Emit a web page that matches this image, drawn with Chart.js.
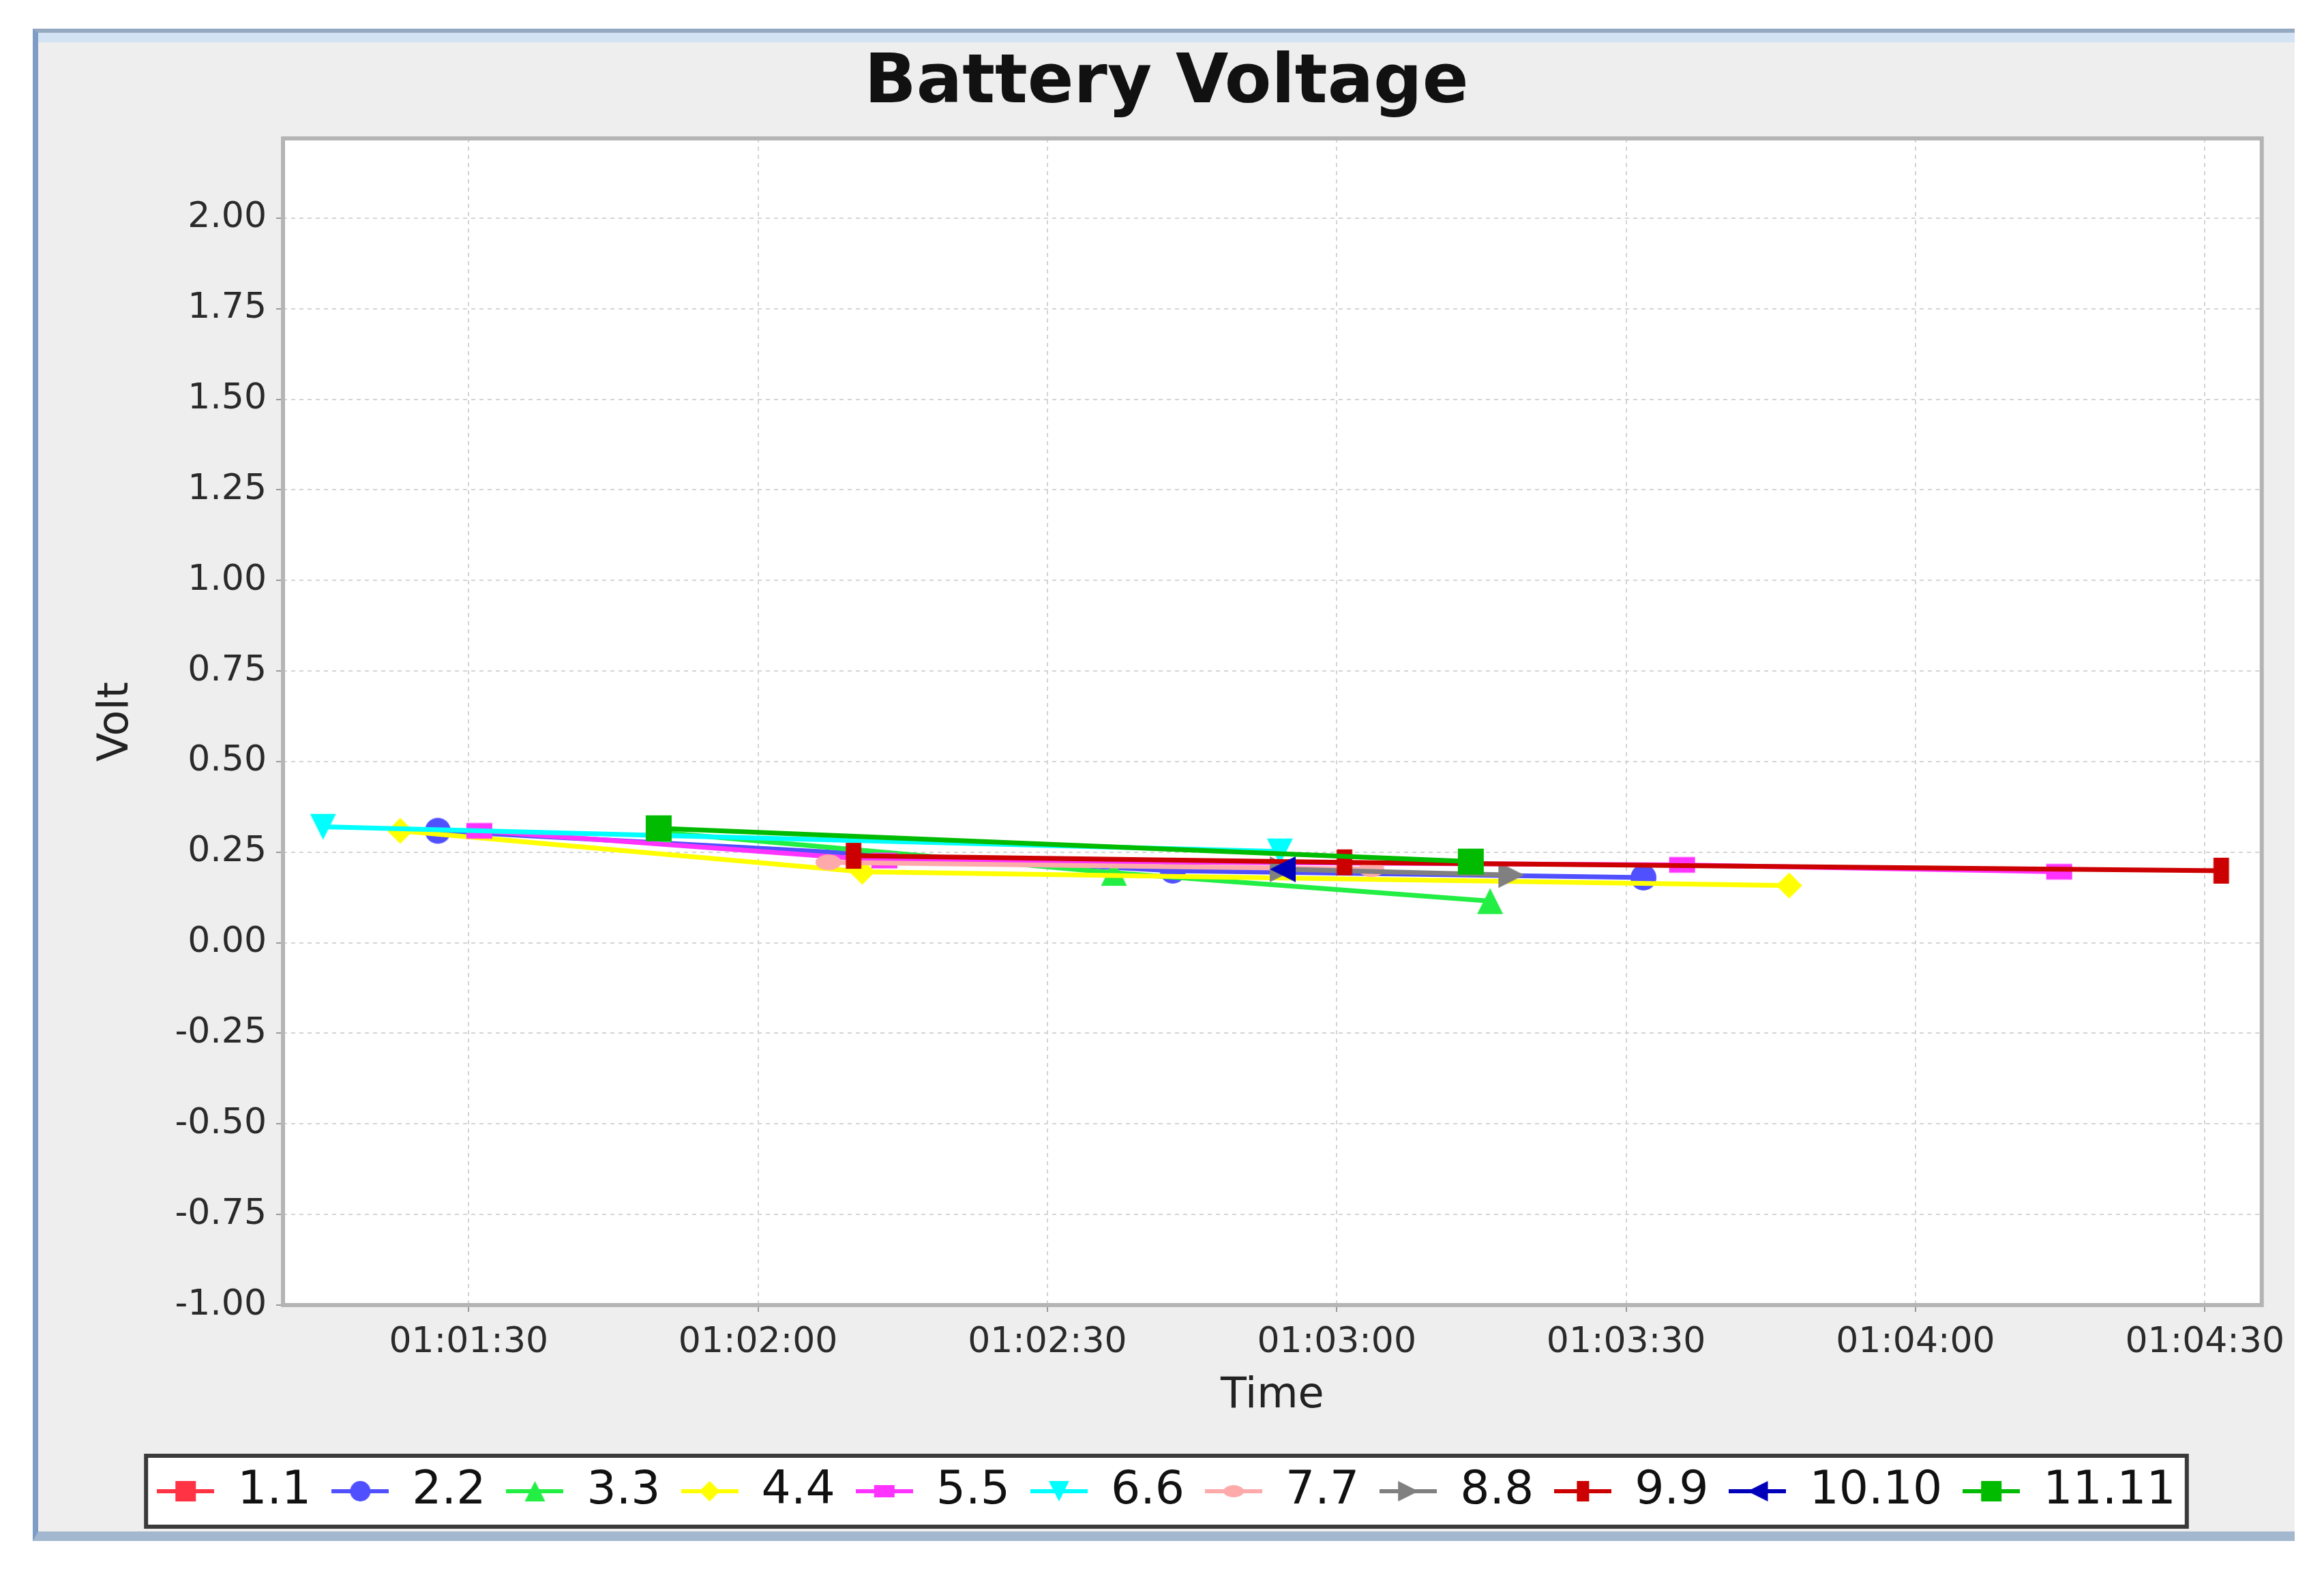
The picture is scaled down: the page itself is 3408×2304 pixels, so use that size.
<!DOCTYPE html>
<html lang="en">
<head>
  <meta charset="UTF-8">
  <title>Battery Voltage</title>
  <script src="https://cdn.jsdelivr.net/npm/chart.js"></script>
  <style>
    html, body { margin: 0; padding: 0; background: #ffffff; }
    body { width: 3408px; height: 2304px; position: relative; overflow: hidden; }
    .frame {
      position: absolute; left: 48px; top: 42px;
      width: 3309px; height: 2198px;
      border-left: 8px solid #7f9cc6;
      border-top: 6px solid #94a8c0;
      border-bottom: 14px solid #a3b8cf;
      background: #eeeeee;
      box-shadow: inset 0 14px 0 #d3e3f3;
    }
    canvas { display: block; }
  </style>
</head>
<body>
  <div class="frame">
    <canvas id="voltChart" width="3309" height="2198"></canvas>
  </div>

  <script>
    // series (legend order)
    const seriesNames = ['1.1', '2.2', '3.3', '4.4', '5.5', '6.6', '7.7', '8.8', '9.9', '10.10', '11.11'];
    const seriesColors = ['#ff3344', '#5050ff', '#22ee44', '#ffff00', '#ff33ff', '#00ffff',
                          '#ffaaaa', '#808080', '#cc0000', '#0000bb', '#00bb00'];
    const seriesShapes = ['square', 'circle', 'triUp', 'diamond', 'hRect', 'triDown',
                          'hEllipse', 'triRight', 'vRect', 'triLeft', 'square'];

    // seconds after 01:00:00
    const times = [
      [],                            // 1.1
      [86.8, 163.0, 211.8],          // 2.2
      [109.8, 156.9, 195.9],         // 3.3
      [82.9, 130.8, 226.9],          // 4.4
      [91.1, 133.1, 215.8, 254.9],   // 5.5
      [74.9, 174.1],                 // 6.6
      [127.3, 183.6],                // 7.7
      [174.4, 198.1],                // 8.8
      [129.9, 180.8, 271.7],         // 9.9
      [174.4],                       // 10.10
      [109.7, 193.9]                 // 11.11
    ];
    // volt
    const volts = [
      [],
      [0.309, 0.199, 0.180],
      [0.305, 0.193, 0.115],
      [0.309, 0.196, 0.158],
      [0.309, 0.227, 0.215, 0.196],
      [0.320, 0.252],
      [0.222, 0.203],
      [0.203, 0.187],
      [0.240, 0.222, 0.199],
      [0.203],
      [0.316, 0.224]
    ];

    const xTicks = [90, 120, 150, 180, 210, 240, 270];
    const yTicks = [-1, -0.75, -0.5, -0.25, 0, 0.25, 0.5, 0.75, 1, 1.25, 1.5, 1.75, 2];

    function pad2(n) { return String(n).padStart(2, '0'); }
    function fmtTime(v) {
      const t = Math.round(3600 + v);
      return pad2(Math.floor(t / 3600)) + ':' + pad2(Math.floor((t % 3600) / 60)) + ':' + pad2(t % 60);
    }

    // marker shapes like the old java renderer
    function drawShape(ctx, kind, cx, cy, s, color) {
      const h = s / 2;
      ctx.fillStyle = color;
      ctx.beginPath();
      if (kind === 'square') ctx.rect(cx - h, cy - h, s, s);
      else if (kind === 'circle') ctx.arc(cx, cy, h, 0, Math.PI * 2);
      else if (kind === 'triUp') { ctx.moveTo(cx, cy - h); ctx.lineTo(cx + h, cy + h); ctx.lineTo(cx - h, cy + h); }
      else if (kind === 'triDown') { ctx.moveTo(cx, cy + h); ctx.lineTo(cx + h, cy - h); ctx.lineTo(cx - h, cy - h); }
      else if (kind === 'triRight') { ctx.moveTo(cx + h, cy); ctx.lineTo(cx - h, cy - h); ctx.lineTo(cx - h, cy + h); }
      else if (kind === 'triLeft') { ctx.moveTo(cx - h, cy); ctx.lineTo(cx + h, cy - h); ctx.lineTo(cx + h, cy + h); }
      else if (kind === 'diamond') { ctx.moveTo(cx, cy - h); ctx.lineTo(cx + h, cy); ctx.lineTo(cx, cy + h); ctx.lineTo(cx - h, cy); }
      else if (kind === 'hRect') ctx.rect(cx - h, cy - s * 0.3, s, s * 0.6);
      else if (kind === 'vRect') ctx.rect(cx - s * 0.3, cy - h, s * 0.6, s);
      else if (kind === 'hEllipse') ctx.ellipse(cx, cy, h, s * 0.3, 0, 0, Math.PI * 2);
      ctx.closePath();
      ctx.fill();
    }

    function makePoint(kind, color, s) {
      const c = document.createElement('canvas');
      c.width = s + 2; c.height = s + 2;
      drawShape(c.getContext('2d'), kind, c.width / 2, c.height / 2, s, color);
      return c;
    }

    function makeLegendIcon(kind, color) {
      const c = document.createElement('canvas');
      c.width = 84; c.height = 40;
      const ctx = c.getContext('2d');
      ctx.strokeStyle = color;
      ctx.lineWidth = 6;
      ctx.beginPath(); ctx.moveTo(0, 20); ctx.lineTo(84, 20); ctx.stroke();
      drawShape(ctx, kind, 42, 20, 30, color);
      return c;
    }

    const legendIcons = seriesNames.map((n, i) => makeLegendIcon(seriesShapes[i], seriesColors[i]));

    const datasets = seriesNames.map((name, i) => ({
      label: name,
      data: times[i].map((t, j) => ({ x: t, y: volts[i][j] })),
      borderColor: seriesColors[i],
      backgroundColor: seriesColors[i],
      borderWidth: 7,
      tension: 0,
      pointStyle: makePoint(seriesShapes[i], seriesColors[i], 38),
      pointRadius: 18,
      order: -i,
      xAxisID: 'x',
      yAxisID: 'y'
    }));

    // white plot area, plot border and the boxed legend
    const framePlugin = {
      id: 'frame',
      beforeDraw(chart) {
        const { ctx, chartArea: a, legend } = chart;
        ctx.save();
        ctx.fillStyle = '#ffffff';
        ctx.fillRect(a.left, a.top, a.right - a.left, a.bottom - a.top);
        const boxes = legend.legendHitBoxes;
        if (boxes && boxes.length) {
          const left = Math.min(...boxes.map(b => b.left));
          const right = Math.max(...boxes.map(b => b.left + b.width));
          const l = left - 16, r = right + 16;
          const t = boxes[0].top - 18, b = boxes[0].top + boxes[0].height + 18;
          ctx.fillRect(l, t, r - l, b - t);
          ctx.lineWidth = 6;
          ctx.strokeStyle = '#3a3a3a';
          ctx.strokeRect(l, t, r - l, b - t);
        }
        ctx.restore();
      },
      beforeDatasetsDraw(chart) {
        const { ctx, chartArea: a } = chart;
        ctx.save();
        ctx.lineWidth = 6;
        ctx.strokeStyle = '#b4b4b4';
        ctx.strokeRect(a.left, a.top, a.right - a.left, a.bottom - a.top);
        ctx.restore();
      }
    };

    Chart.defaults.font.family = "'DejaVu Sans', sans-serif";
    Chart.defaults.color = '#333333';

    new Chart(document.getElementById('voltChart').getContext('2d'), {
      type: 'line',
      data: { datasets: datasets },
      plugins: [framePlugin],
      options: {
        responsive: false,
        animation: false,
        devicePixelRatio: 1,
        layout: { padding: { left: 0, right: 0, top: 0, bottom: 15 } },
        plugins: {
          title: {
            display: true,
            text: 'Battery Voltage',
            color: '#111111',
            font: { size: 100, weight: 'bold' },
            padding: { top: 16, bottom: 19 }
          },
          legend: {
            position: 'bottom',
            labels: {
              usePointStyle: true,
              pointStyleWidth: 84,
              padding: 30,
              color: '#111111',
              font: { size: 68 },
              sort: (a, b) => a.datasetIndex - b.datasetIndex,
              generateLabels(chart) {
                const items = Chart.defaults.plugins.legend.labels.generateLabels(chart);
                items.forEach(it => { it.pointStyle = legendIcons[it.datasetIndex]; });
                return items;
              }
            }
          },
          tooltip: { enabled: false }
        },
        scales: {
          x: {
            type: 'linear',
            min: 70.75,
            max: 275.9,
            afterBuildTicks(s) { s.ticks = xTicks.map(v => ({ value: v })); },
            afterFit(s) { s.height = 209; },
            ticks: { callback: v => fmtTime(v), font: { size: 52 }, color: '#2a2a2a', padding: 14, maxRotation: 0, autoSkip: false },
            grid: { color: '#d4d4d4', lineWidth: 2, tickLength: 10, tickColor: '#999999', tickWidth: 2 },
            border: { display: false, dash: [6, 6] },
            title: { display: true, text: 'Time', color: '#222222', font: { size: 62 }, padding: { top: 0, bottom: 38 } }
          },
          y: {
            type: 'linear',
            position: 'left',
            min: -1,
            max: 2.22,
            afterBuildTicks(s) { s.ticks = yTicks.map(v => ({ value: v })); },
            afterFit(s) { s.width = 359; },
            ticks: { callback: v => v.toFixed(2), font: { size: 52 }, color: '#2a2a2a', padding: 14, autoSkip: false },
            grid: { color: '#d4d4d4', lineWidth: 2, tickLength: 10, tickColor: '#999999', tickWidth: 2 },
            border: { display: false, dash: [6, 6] },
            title: { display: true, text: 'Volt', color: '#222222', font: { size: 62 }, padding: { top: 78, bottom: 0 } }
          },
          yR: {
            type: 'linear',
            position: 'right',
            afterFit(s) { s.width = 34; },
            grid: { display: false },
            border: { display: false },
            ticks: { display: false }
          }
        }
      }
    });
  </script>
</body>
</html>
